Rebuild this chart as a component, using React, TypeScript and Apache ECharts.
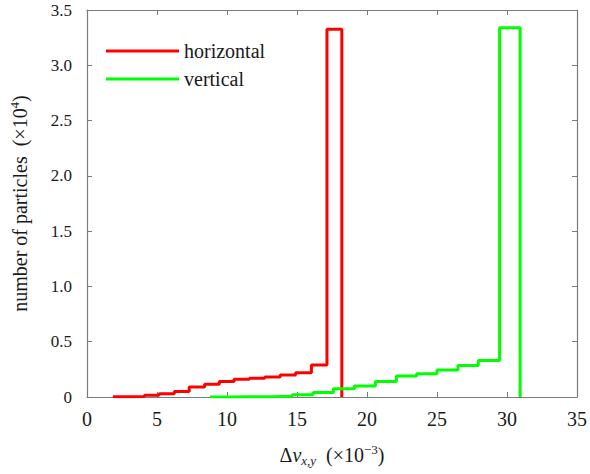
import React, { useEffect, useRef } from "react";
import * as echarts from "echarts";

// Histogram bin edges (x in units of 1e-3) and counts (units of 1e4 particles)
const horizontalEdges = [1.85, 2.95, 4.1, 5.15, 6.24, 7.3, 8.4, 9.45, 10.5, 11.6, 12.7, 13.8, 14.9, 16.03, 17.14, 18.2];
const horizontalCounts = [0.002, 0.005, 0.015, 0.03, 0.05, 0.09, 0.115, 0.14, 0.16, 0.17, 0.18, 0.2, 0.22, 0.29, 3.325];

const verticalEdges = [8.78, 10.25, 11.72, 13.19, 14.65, 16.15, 17.6, 19.1, 20.6, 22.1, 23.55, 25.0, 26.5, 27.95, 29.47, 30.94];
const verticalCounts = [0.001, 0.002, 0.003, 0.006, 0.02, 0.04, 0.075, 0.1, 0.14, 0.19, 0.21, 0.245, 0.285, 0.33, 3.34];

const seriesNames = ["horizontal", "vertical"];
const seriesColors = ["#ff0000", "#00ff00"];

const xTicks = [0, 5, 10, 15, 20, 25, 30, 35];
const yTicks = [0, 0.5, 1.0, 1.5, 2.0, 2.5, 3.0, 3.5];

const FONT = "'Liberation Serif', 'Times New Roman', serif";
const AXIS_COLOR = "#7a7a7a";
const TEXT_COLOR = "#1a1a1a";

function toSteps(edges: number[], counts: number[]) {
  return edges.map((e, i) => [e, i < counts.length ? counts[i] : 0]);
}

export default function App() {
  const ref = useRef<HTMLDivElement>(null);

  useEffect(() => {
    if (!ref.current) return;
    const chart = echarts.init(ref.current, undefined, { renderer: "svg" });

    const baseX = {
      type: "value" as const,
      min: xTicks[0],
      max: xTicks[xTicks.length - 1],
      interval: 5,
      splitLine: { show: false },
      axisLine: { show: true, onZero: false, lineStyle: { color: AXIS_COLOR, width: 1.2 } },
      axisTick: { show: true, inside: true, length: 5, lineStyle: { color: AXIS_COLOR } },
    };
    const baseY = {
      type: "value" as const,
      min: yTicks[0],
      max: yTicks[yTicks.length - 1],
      interval: 0.5,
      splitLine: { show: false },
      axisLine: { show: true, onZero: false, lineStyle: { color: AXIS_COLOR, width: 1.2 } },
      axisTick: { show: true, inside: true, length: 5, lineStyle: { color: AXIS_COLOR } },
    };

    const nameRich = {
      n: { fontFamily: FONT, fontSize: 20, lineHeight: 24, color: TEXT_COLOR },
      i: { fontFamily: FONT, fontSize: 20, lineHeight: 24, fontStyle: "italic", color: TEXT_COLOR },
      sub: { fontFamily: FONT, fontSize: 13, lineHeight: 12, fontStyle: "italic", verticalAlign: "bottom", color: TEXT_COLOR },
      sup: { fontFamily: FONT, fontSize: 13, lineHeight: 12, verticalAlign: "top", color: TEXT_COLOR },
    };

    chart.setOption({
      animation: false,
      backgroundColor: "#ffffff",
      textStyle: { fontFamily: FONT, color: TEXT_COLOR },
      grid: { left: 87, right: 11, top: 10, bottom: 77, containLabel: false },
      legend: {
        show: true,
        orient: "vertical",
        left: 106,
        top: 41,
        padding: 0,
        itemGap: 8,
        itemWidth: 73,
        itemHeight: 3,
        icon: "rect",
        data: seriesNames,
        textStyle: { fontFamily: FONT, fontSize: 20, lineHeight: 20, color: TEXT_COLOR },
      },
      xAxis: [
        {
          ...baseX,
          position: "bottom",
          axisLabel: { show: true, margin: 12, fontFamily: FONT, fontSize: 20, color: TEXT_COLOR },
          name: "{n|Δ}{i|ν}{sub|x,y}{n|  (×10}{sup|−3}{n|)}",
          nameLocation: "middle",
          nameGap: 46,
          nameTextStyle: { rich: nameRich },
        },
        { ...baseX, position: "top", axisLabel: { show: false } },
      ],
      yAxis: [
        {
          ...baseY,
          position: "left",
          axisLabel: {
            show: true,
            margin: 15,
            fontFamily: FONT,
            fontSize: 17,
            color: TEXT_COLOR,
            formatter: (v: number) => (v === 0 ? "0" : v.toFixed(1)),
          },
          name: "{n|number of particles  (×10}{sup|4}{n|)}",
          nameLocation: "middle",
          nameGap: 55,
          nameTextStyle: { rich: nameRich },
        },
        { ...baseY, position: "right", axisLabel: { show: false } },
      ],
      series: [
        {
          name: seriesNames[0],
          type: "line",
          step: "end",
          xAxisIndex: 0,
          yAxisIndex: 0,
          showSymbol: false,
          symbol: "none",
          color: seriesColors[0],
          lineStyle: { color: seriesColors[0], width: 3 },
          data: toSteps(horizontalEdges, horizontalCounts),
        },
        {
          name: seriesNames[1],
          type: "line",
          step: "end",
          xAxisIndex: 0,
          yAxisIndex: 0,
          showSymbol: false,
          symbol: "none",
          color: seriesColors[1],
          lineStyle: { color: seriesColors[1], width: 3 },
          data: toSteps(verticalEdges, verticalCounts),
        },
      ],
    });

    return () => chart.dispose();
  }, []);

  return <div ref={ref} style={{ width: 590, height: 474, position: "absolute", left: 0, top: 0 }} />;
}
